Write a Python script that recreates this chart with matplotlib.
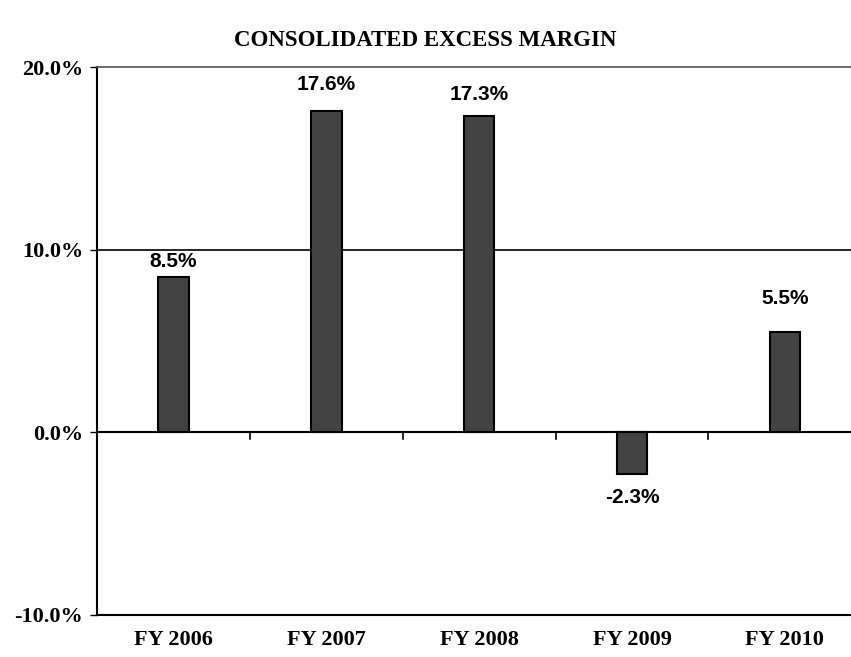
import matplotlib
matplotlib.use("Agg")
import matplotlib.pyplot as plt
from matplotlib.ticker import FuncFormatter

years = ["FY 2006", "FY 2007", "FY 2008", "FY 2009", "FY 2010"]
margins = [8.5, 17.6, 17.3, -2.3, 5.5]
yticks = [-10, 0, 10, 20]

# label offsets (points) as placed in the original
label_off = [11.5, 19, 16, -17, 24]

fig = plt.figure(figsize=(8.51, 6.57), dpi=100)
ax = fig.add_axes([0.114, 0.064, 0.898, 0.834])

x = list(range(len(years)))
ax.bar(x, margins, width=0.2, color="#424242", edgecolor="black", linewidth=1.5, zorder=3)

ax.set_xlim(-0.5, len(years) - 0.5)
ax.set_ylim(-10, 20)
ax.set_yticks(yticks)
ax.yaxis.set_major_formatter(FuncFormatter(lambda v, p: f"{v:.1f}%"))
for lab in ax.get_yticklabels():
    lab.set_fontfamily("Liberation Serif")
    lab.set_fontweight("bold")
    lab.set_fontsize(16)
ax.tick_params(axis="y", length=5, width=1, pad=5)

# horizontal gridline at 10%, zero line with category ticks
ax.axhline(10, color="black", lw=1.2, zorder=2)
ax.axhline(0, color="black", lw=1.5, zorder=2)
ax.set_xticks([])
for b in [i + 0.5 for i in range(len(years) - 1)]:
    ax.plot([b, b], [0, -0.35], color="black", lw=1.2, zorder=2, clip_on=False)

for i, yr in enumerate(years):
    ax.annotate(yr, xy=(i, 0), xycoords=("data", "axes fraction"), xytext=(0, -18),
                textcoords="offset points", ha="center", va="center",
                fontfamily="Liberation Serif", fontweight="bold", fontsize=16)

for i, v in enumerate(margins):
    ax.annotate(f"{v:.1f}%", xy=(i, v), xytext=(0, label_off[i]), textcoords="offset points",
                ha="center", va="center", fontfamily="Liberation Sans",
                fontweight="bold", fontsize=15)

for s in ["left", "bottom"]:
    ax.spines[s].set_linewidth(1.5)
ax.spines["top"].set_color("#555555")
ax.spines["top"].set_linewidth(1.2)
ax.spines["right"].set_visible(False)

fig.text(0.5, 0.938, "CONSOLIDATED EXCESS MARGIN", ha="center", va="center",
         fontfamily="Liberation Serif", fontweight="bold", fontsize=16.5)

fig.savefig("out.png", dpi=100)
